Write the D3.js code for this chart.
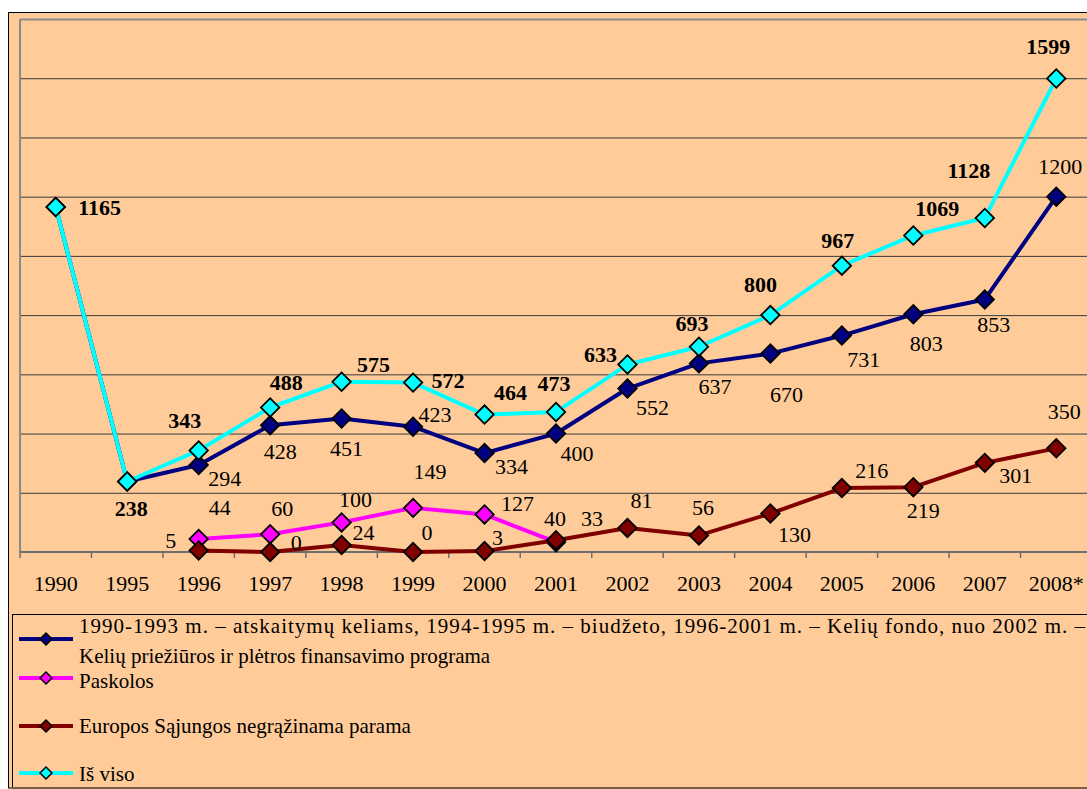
<!DOCTYPE html>
<html>
<head>
<meta charset="utf-8">
<script src="https://cdn.jsdelivr.net/npm/d3@7"></script>
<style>
  html, body { margin: 0; padding: 0; background: #ffffff; }
  svg { display: block; font-family: "Liberation Serif", "Times New Roman", serif; }
</style>
</head>
<body>
<svg id="chart" width="1087" height="789"></svg>
<script>
// ---------- DATA ----------
const years = ["1990","1995","1996","1997","1998","1999","2000","2001","2002","2003","2004","2005","2006","2007","2008*"];
const yTicks = [0,200,400,600,800,1000,1200,1400,1600,1800];

// Kelių fondas / programa
const fundYears  = ["1990","1995","1996","1997","1998","1999","2000","2001","2002","2003","2004","2005","2006","2007","2008*"];
const fundValues = [1165, 238, 294, 428, 451, 423, 334, 400, 552, 637, 670, 731, 803, 853, 1200];
const fundLabels = [null, null, "294","428","451","423","334","400","552","637","670","731","803","853","1200"];

// Paskolos
const loanYears  = ["1996","1997","1998","1999","2000","2001"];
const loanValues = [44, 60, 100, 149, 127, 33];
const loanLabels = ["44","60","100","149","127","33"];

// ES negrąžinama parama
const euYears  = ["1996","1997","1998","1999","2000","2001","2002","2003","2004","2005","2006","2007","2008*"];
const euValues = [5, 0, 24, 0, 3, 40, 81, 56, 130, 216, 219, 301, 350];
const euLabels = ["5","0","24","0","3","40","81","56","130","216","219","301","350"];

// Iš viso
const totalYears  = years;
const totalValues = [1165, 238, 343, 488, 575, 572, 464, 473, 633, 693, 800, 967, 1069, 1128, 1599];
const totalLabels = ["1165","238","343","488","575","572","464","473","633","693","800","967","1069","1128","1599"];

const legendTexts = [
  ["1990-1993 m. – atskaitymų keliams, 1994-1995 m. – biudžeto, 1996-2001 m. – Kelių fondo, nuo 2002 m. –",
   "Kelių priežiūros ir plėtros finansavimo programa"],
  ["Paskolos"],
  ["Europos Sąjungos negrąžinama parama"],
  ["Iš viso"]
];

// ---------- LAYOUT / STYLE (label offsets relative to points) ----------
const fundOff  = [null, null, [26,14],[10,26],[5,30],[22,-12],[27,13],[21,20],[25,19],[16,23],[16,41],[22,24],[13,29],[9,25],[4,-30]];
const loanOff  = [[21,-31],[12,-26],[14,-23],[17,-36],[33,-11],[36,-24]];
const euOff    = [[-28,-10],[26,-10],[22,-12],[14,-20],[13,-14],[-1,-22],[14,-28],[4,-28],[24,21],[30,-18],[10,23],[31,13],[8,-37]];
const totalOff = [[44,0],[4,27],[-14,-30],[16,-25],[32,-17],[35,-2],[26,-22],[-2,-28],[-27,-10],[-7,-23],[-10,-31],[-4,-25],[24,-27],[-16,-47],[-8,-32]];

const W = 1087, H = 789;
const plot = { left: 20, right: 1092, top: 19, bottom: 552 };
const bg = "#FFCC99";

const svg = d3.select("#chart");

// Outer background & frame
svg.append("rect").attr("x", 0).attr("y", 0).attr("width", W).attr("height", H).attr("fill", "#ffffff");
svg.append("rect").attr("x", 8.5).attr("y", 12.5).attr("width", 1100).attr("height", 775.5)
  .attr("fill", bg).attr("stroke", "#000").attr("stroke-width", 1);

const x = d3.scaleBand().domain(years).range([plot.left, plot.right]).paddingInner(0).paddingOuter(0);
const xc = d => x(d) + x.bandwidth() / 2;
const y = d3.scaleLinear().domain([0, 1800]).range([plot.bottom, plot.top]);

// Gridlines
const grid = svg.append("g").attr("transform", `translate(${plot.left},0)`)
  .call(d3.axisRight(y).tickValues(yTicks).tickSize(plot.right - plot.left).tickFormat(""));
grid.select(".domain").remove();
grid.selectAll(".tick line")
  .attr("stroke", (d) => d === 1800 ? "#8a8a8a" : "#3a3a3a").attr("stroke-width", d => d === 1800 ? 2 : 1);

// Left plot border
svg.append("line").attr("x1", plot.left).attr("x2", plot.left).attr("y1", y(1800)).attr("y2", y(0))
  .attr("stroke", "#8a8a8a").attr("stroke-width", 2);

// X axis
const xAxis = svg.append("g").attr("transform", `translate(0,${plot.bottom})`)
  .call(d3.axisBottom(x).tickSize(0).tickPadding(0));
xAxis.select(".domain").remove();
xAxis.selectAll(".tick text").attr("font-size", 22).attr("fill", "#000")
  .attr("font-family", "Liberation Serif, Times New Roman, serif")
  .attr("dy", null).attr("y", 39);
svg.append("line").attr("x1", plot.left).attr("x2", plot.right).attr("y1", plot.bottom).attr("y2", plot.bottom)
  .attr("stroke", "#6e6e6e").attr("stroke-width", 2);
const bounds = years.map(d => x(d)).concat([plot.right]);
svg.append("g").selectAll("line").data(bounds).join("line")
  .attr("x1", d => d).attr("x2", d => d).attr("y1", plot.bottom).attr("y2", plot.bottom + 6)
  .attr("stroke", "#6e6e6e").attr("stroke-width", 1.5);

// Series
const series = [
  { name: "fund",  cats: fundYears,  vals: fundValues,  labels: fundLabels,  off: fundOff,  color: "#000080", bold: false },
  { name: "loan",  cats: loanYears,  vals: loanValues,  labels: loanLabels,  off: loanOff,  color: "#FF00FF", bold: false },
  { name: "eu",    cats: euYears,    vals: euValues,    labels: euLabels,    off: euOff,    color: "#800000", bold: false },
  { name: "total", cats: totalYears, vals: totalValues, labels: totalLabels, off: totalOff, color: "#00FFFF", bold: true }
];

const line = d3.line().x(d => xc(d.c)).y(d => y(d.v));
const diamond = d3.symbol().type(d3.symbolSquare).size(170);

series.forEach(s => {
  const pts = s.cats.map((c, i) => ({ c, v: s.vals[i] }));
  const g = svg.append("g");
  g.append("path").datum(pts).attr("d", line).attr("fill", "none")
    .attr("stroke", s.color).attr("stroke-width", 4).attr("stroke-linejoin", "round");
  g.selectAll("path.m").data(pts).join("path").attr("class", "m")
    .attr("d", diamond)
    .attr("transform", d => `translate(${xc(d.c)},${y(d.v)}) rotate(45)`)
    .attr("fill", s.color).attr("stroke", "#000").attr("stroke-width", 1.8);
});

// Labels (drawn after all series)
series.forEach(s => {
  const items = s.cats.map((c, i) => ({ c, v: s.vals[i], t: s.labels[i], o: s.off[i] })).filter(d => d.t);
  svg.append("g").selectAll("text").data(items).join("text")
    .attr("x", d => xc(d.c) + d.o[0])
    .attr("y", d => y(d.v) + d.o[1])
    .attr("text-anchor", "middle")
    .attr("dominant-baseline", "central")
    .attr("font-size", 22)
    .attr("font-weight", s.bold ? "bold" : "normal")
    .attr("fill", "#000")
    .text(d => d.t);
});

// Legend
svg.append("rect").attr("x", 12.5).attr("y", 614.5).attr("width", 1100).attr("height", 173)
  .attr("fill", bg).attr("stroke", "#000").attr("stroke-width", 1);
svg.append("line").attr("x1", 12).attr("x2", W).attr("y1", 788).attr("y2", 788)
  .attr("stroke", "#7a6040").attr("stroke-width", 2);

const legendSymY = [639, 678, 726, 773];
const legendTextY = [[633, 663], [688], [733], [781]];
const legSym = d3.symbol().type(d3.symbolSquare).size(72);
const leg = svg.append("g");
series.forEach((s, i) => {
  leg.append("line").attr("x1", 19).attr("x2", 73).attr("y1", legendSymY[i]).attr("y2", legendSymY[i])
    .attr("stroke", s.color).attr("stroke-width", 4);
  leg.append("path").attr("d", legSym)
    .attr("transform", `translate(46,${legendSymY[i]}) rotate(45)`)
    .attr("fill", s.color).attr("stroke", "#000").attr("stroke-width", 1.5);
  legendTexts[i].forEach((t, j) => {
    const tx = leg.append("text").attr("x", 79).attr("y", legendTextY[i][j])
      .attr("font-size", 21).attr("fill", "#000").text(t);
    if (i === 0 && j === 0) tx.attr("textLength", 1006).attr("lengthAdjust", "spacing");
  });
});
</script>
</body>
</html>
